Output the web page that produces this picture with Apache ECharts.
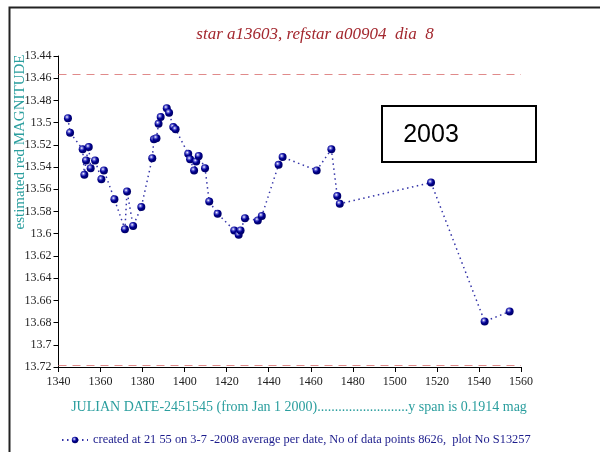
<!DOCTYPE html>
<html>
<head>
<meta charset="utf-8">
<script src="https://cdn.jsdelivr.net/npm/echarts@6/dist/echarts.min.js"></script>
<style>
  html, body { margin: 0; padding: 0; background: #fff; }
  #chart { width: 600px; height: 452px; }
</style>
</head>
<body>
<div id="chart"></div>
<script>
// julian date - 2451545
const julianDays = [
  1344.5, 1345.5, 1351.5, 1352.3, 1353.1, 1354.4, 1355.3, 1357.4, 1360.4, 1361.6,
  1366.6, 1371.6, 1372.6, 1375.5, 1379.4, 1384.6, 1385.4, 1386.6, 1387.6, 1388.6,
  1391.5, 1392.6, 1394.6, 1395.7, 1401.7, 1402.6, 1404.5, 1405.5, 1406.7, 1409.7,
  1411.7, 1415.7, 1423.6, 1425.7, 1426.6, 1428.7, 1434.8, 1436.7, 1444.7, 1446.6,
  1462.8, 1469.8, 1472.6, 1473.8, 1517.2, 1542.7, 1554.6
];
const magnitudes = [
  13.496, 13.509, 13.524, 13.547, 13.534, 13.522, 13.541, 13.534, 13.551, 13.543,
  13.569, 13.596, 13.562, 13.593, 13.576, 13.532, 13.515, 13.514, 13.501, 13.495,
  13.487, 13.491, 13.504, 13.506, 13.528, 13.533, 13.543, 13.535, 13.530, 13.541,
  13.571, 13.582, 13.597, 13.601, 13.597, 13.586, 13.588, 13.584, 13.538, 13.531,
  13.543, 13.524, 13.566, 13.573, 13.554, 13.679, 13.670
];
const limitLines = [13.456, 13.7185];
const yTicks = {min: 13.44, max: 13.72, step: 0.02};
const xTicks = {min: 1340, max: 1560, step: 20};

const titleText = 'star a13603, refstar a00904  dia  8';
const yName = 'estimated red MAGNITUDE';
const xName = 'JULIAN DATE-2451545 (from Jan 1 2000)..........................y span is 0.1914 mag';
const seriesName = 'created at 21 55 on 3-7 -2008 average per date, No of data points 8626,  plot No S13257';
const yearLabel = '2003';

const points = julianDays.map((d, i) => [d, magnitudes[i]]);

const chart = echarts.init(document.getElementById('chart'));

const dotFill = new echarts.graphic.RadialGradient(0.38, 0.35, 0.6, [
  {offset: 0, color: '#ffffff'},
  {offset: 0.3, color: '#5a5ad0'},
  {offset: 0.6, color: '#000090'},
  {offset: 1, color: '#00006a'}
]);

const serif = 'Liberation Serif';

chart.setOption({
  animation: false,
  backgroundColor: '#fff',
  title: {
    text: titleText,
    left: 310,
    top: 21,
    textAlign: 'center',
    textStyle: {
      fontFamily: serif,
      fontStyle: 'italic',
      fontWeight: 'normal',
      fontSize: 17,
      color: '#a3282f'
    }
  },
  legend: {
    top: 429,
    left: 56,
    itemWidth: 26,
    itemHeight: 8,
    itemGap: 4,
    textStyle: {fontFamily: serif, fontSize: 12.4, color: '#1c1c8c'},
    data: [seriesName]
  },
  grid: {left: 58.5, right: 79, top: 56, bottom: 85, containLabel: false},
  xAxis: {
    type: 'value',
    min: xTicks.min,
    max: xTicks.max,
    interval: xTicks.step,
    axisLine: {lineStyle: {color: '#000', width: 1}},
    axisTick: {length: 5, lineStyle: {color: '#000'}},
    axisLabel: {fontFamily: serif, fontSize: 12, color: '#222', margin: 9, formatter: v => String(v)},
    splitLine: {show: false}
  },
  yAxis: {
    type: 'value',
    inverse: true,
    min: yTicks.min,
    max: yTicks.max,
    interval: yTicks.step,
    axisLine: {show: true, lineStyle: {color: '#000', width: 1}},
    axisTick: {show: true, length: 5, lineStyle: {color: '#000'}},
    axisLabel: {fontFamily: serif, fontSize: 12, color: '#222', margin: 7},
    splitLine: {show: false}
  },
  series: [{
    name: seriesName,
    type: 'line',
    data: points,
    symbol: 'circle',
    symbolSize: 8,
    itemStyle: {color: dotFill, borderWidth: 0},
    lineStyle: {color: '#3434a8', width: 1.5, type: [1.5, 3.5]},
    markLine: {
      silent: true,
      symbol: 'none',
      precision: 4,
      label: {show: false},
      lineStyle: {color: '#e08a8a', width: 1, type: [8, 6]},
      data: limitLines.map(v => ({yAxis: v}))
    }
  }],
  graphic: [
    // frame of the screenshot
    {type: 'rect', left: 7, top: 5, shape: {width: 610, height: 470}, style: {fill: 'none', stroke: '#222', lineWidth: 2}, silent: true},
    {
      type: 'text', x: 20, y: 142, rotation: Math.PI / 2,
      style: {text: yName, font: '15px "Liberation Serif"', fill: '#2a9e9e', align: 'center', verticalAlign: 'middle'}
    },
    {
      type: 'text', x: 299, y: 407,
      style: {text: xName, font: '14px "Liberation Serif"', fill: '#2a9e9e', align: 'center', verticalAlign: 'middle'}
    },
    {type: 'rect', shape: {x: 382, y: 106, width: 154, height: 56}, style: {fill: '#fff', stroke: '#000', lineWidth: 2}},
    {
      type: 'text', x: 431, y: 135,
      style: {text: yearLabel, font: '25px "Liberation Sans"', fill: '#000', align: 'center', verticalAlign: 'middle'}
    }
  ]
});
</script>
</body>
</html>
